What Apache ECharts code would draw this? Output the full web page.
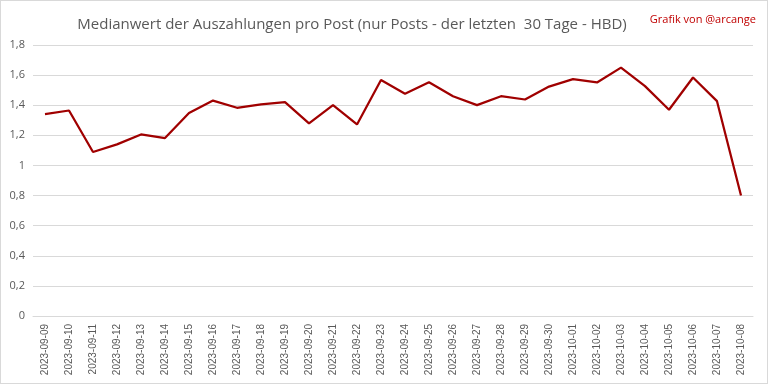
<!DOCTYPE html>
<html><head><meta charset="utf-8">
<script src="https://cdn.jsdelivr.net/npm/echarts@6/dist/echarts.min.js"></script>
<style>html,body{margin:0;padding:0;background:#fff}#c{width:768px;height:384px;box-sizing:border-box;border:1px solid #d9d9d9}</style>
</head><body><div id="c"></div>
<script>
const titleText = "Medianwert der Auszahlungen pro Post (nur Posts - der letzten  30 Tage - HBD)";
const creditText = "Grafik von @arcange";
const categories = ["2023-09-09","2023-09-10","2023-09-11","2023-09-12","2023-09-13","2023-09-14","2023-09-15","2023-09-16","2023-09-17","2023-09-18","2023-09-19","2023-09-20","2023-09-21","2023-09-22","2023-09-23","2023-09-24","2023-09-25","2023-09-26","2023-09-27","2023-09-28","2023-09-29","2023-09-30","2023-10-01","2023-10-02","2023-10-03","2023-10-04","2023-10-05","2023-10-06","2023-10-07","2023-10-08"];
const medianValues = [1.341,1.365,1.089,1.140,1.206,1.182,1.348,1.431,1.383,1.405,1.421,1.279,1.401,1.272,1.567,1.476,1.553,1.460,1.401,1.460,1.438,1.524,1.573,1.551,1.650,1.527,1.370,1.584,1.427,0.800];
const chart = echarts.init(document.getElementById('c'));
chart.setOption({
  animation:false,
  title:[
    {text:titleText,left:346,textAlign:'center',top:11,textStyle:{fontFamily:'Open Sans',fontSize:15,fontWeight:'normal',color:'#595959'}},
    {text:creditText,right:6,top:8,textStyle:{fontFamily:'Open Sans',fontSize:11,fontWeight:'normal',color:'#c00000'}}
  ],
  grid:{left:32,right:14,top:44,bottom:67},
  xAxis:{type:'category',data:categories,boundaryGap:true,
    axisLine:{lineStyle:{color:'#d9d9d9'}},axisTick:{show:false},
    axisLabel:{rotate:90,interval:0,fontFamily:'Liberation Sans',fontSize:10,color:'#595959',margin:8}},
  yAxis:{type:'value',min:0,max:1.8,interval:0.2,
    axisLine:{show:false},axisTick:{show:false},
    splitLine:{lineStyle:{color:'#d9d9d9'}},
    axisLabel:{fontFamily:'Open Sans',fontSize:11,color:'#595959',margin:8,
      formatter:v=>String(Math.round(v*10)/10).replace('.',',')}},
  series:[{type:'line',data:medianValues,symbol:'none',lineStyle:{color:'#a00000',width:2.25}}]
});
</script></body></html>
